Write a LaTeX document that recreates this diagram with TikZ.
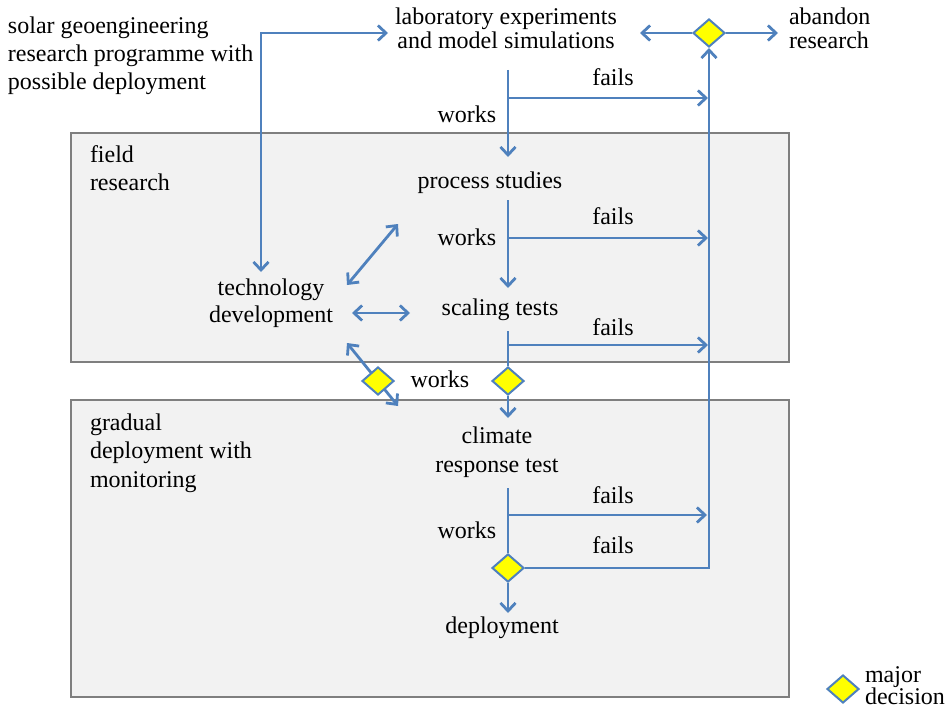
\documentclass[tikz,border=0pt]{standalone}
\usepackage{fontspec}
\setmainfont{Liberation Serif}
\usetikzlibrary{arrows.meta,shapes.geometric}
\definecolor{lblue}{HTML}{4F81BD}
\definecolor{panelfill}{HTML}{F2F2F2}
\definecolor{paneledge}{HTML}{7F7F7F}
\definecolor{decyellow}{HTML}{FFFF00}
\begin{document}
\begin{tikzpicture}[x=1pt,y=-1pt,
  txt/.style={inner sep=0pt, outer sep=0pt, font=\fontsize{24}{#1}\selectfont},
  txt/.default=28.5,
  panel/.style={draw=paneledge, fill=panelfill, line width=2.6pt},
  tip/.tip={Straight Barb[length=8pt,width=15pt]},
  flow/.style={draw=lblue, line width=2.8pt, -tip},
  plain/.style={draw=lblue, line width=2.8pt},
  both/.style={draw=lblue, line width=2.8pt, tip-tip},
  decision/.style={diamond, draw=lblue, fill=decyellow, line width=2pt,
    minimum width=32pt, minimum height=28pt, inner sep=0pt}
]
\useasboundingbox (0,0) rectangle (946,709);

% panels
\draw[panel] (71,133) rectangle (789,362);
\draw[panel] (71,400) rectangle (789,697);

% texts (multi-line nodes: base = last line's baseline)
\node[txt, anchor=base west, align=left] (title) at (8,90)
  {solar geoengineering\\research programme with\\possible deployment};
\node[txt=23.5, anchor=base, align=center] (lab) at (506,48.5)
  {laboratory experiments\\and model simulations};
\node[txt=23.5, anchor=base west, align=left] (aband) at (789,48.5)
  {abandon\\research};
\node[txt=28, anchor=base west, align=left] (field) at (90,190)
  {field\\research};
\node[txt=28.5, anchor=base west, align=left] (gradual) at (90,487)
  {gradual\\deployment with\\monitoring};
\node[txt, anchor=base] (proc) at (490,188) {process studies};
\node[txt, anchor=base] (scal) at (500,315) {scaling tests};
\node[txt=27, anchor=base, align=center] (tech) at (271,322)
  {technology\\development};
\node[txt=29, anchor=base, align=center] (clim) at (497,472)
  {climate\\response test};
\node[txt, anchor=base] (depl) at (502,633) {deployment};
\node[txt=22, anchor=base west, align=left] (legend) at (865,704)
  {major\\decision};

\node[txt, anchor=base] (fl1) at (613,85) {fails};
\node[txt, anchor=base] (fl2) at (613,224) {fails};
\node[txt, anchor=base] (fl3) at (613,335) {fails};
\node[txt, anchor=base] (fl4) at (613,503) {fails};
\node[txt, anchor=base] (fl5) at (613,553) {fails};
\node[txt, anchor=base] (wk1) at (467,123) {works};
\node[txt, anchor=base] (wk2) at (467,245) {works};
\node[txt, anchor=base] (wk3) at (440,387) {works};
\node[txt, anchor=base] (wk4) at (467,538) {works};

% coordinates
\coordinate (labout) at (508,70);
\coordinate (procin) at (508,157);
\coordinate (procout) at (508,200);
\coordinate (scalin) at (508,288);
\coordinate (scalout) at (508,331);
\coordinate (climin) at (508,418);
\coordinate (climout) at (508,488);
\coordinate (deplin) at (508,613);
\coordinate (b1) at (508,98);   \coordinate (e1) at (708,98);
\coordinate (b2) at (508,238);  \coordinate (e2) at (708,238);
\coordinate (b3) at (508,345);  \coordinate (e3) at (708,345);
\coordinate (b4) at (508,515);  \coordinate (e4) at (707,515);
\coordinate (retcorner) at (709,568);
\coordinate (labright) at (640,33);
\coordinate (abandleft) at (778,33);
\coordinate (techtop) at (261,272);
\coordinate (loopcorner) at (261,33);
\coordinate (lableft) at (388,33);
\coordinate (tu1) at (347,285);  \coordinate (pu1) at (398,224);
\coordinate (tu2) at (352,313);  \coordinate (pu2) at (410,313);
\coordinate (tu3) at (347,343);  \coordinate (pu3) at (398,406);

% decisions
\node[decision] (dtop) at (709,33) {};
\node[decision] (dscal) at (508,381) {};
\node[decision] (dclim) at (508,568) {};

% main flow
\draw[flow] (labout) -- (procin);
\draw[flow] (procout) -- (scalin);
\draw[plain] (scalout) -- (dscal.north);
\draw[flow] (dscal.south) -- (climin);
\draw[plain] (climout) -- (dclim.north);
\draw[flow] (dclim.south) -- (deplin);

% fails
\draw[flow] (b1) -- (e1);
\draw[flow] (b2) -- (e2);
\draw[flow] (b3) -- (e3);
\draw[flow] (b4) -- (e4);
\draw[flow] (dclim.east) -- (retcorner) -- (dtop.south);
\draw[flow] (dtop.west) -- (labright);
\draw[flow] (dtop.east) -- (abandleft);

% technology links
\draw[both] (techtop) -- (loopcorner) -- (lableft);
\draw[both] (tu1) -- (pu1);
\draw[both] (tu2) -- (pu2);
\draw[both] (tu3) -- (pu3);
\node[decision] (dtech) at (378,381) {};

% legend
\node[decision] (dleg) at (843,689) {};
\end{tikzpicture}
\end{document}
